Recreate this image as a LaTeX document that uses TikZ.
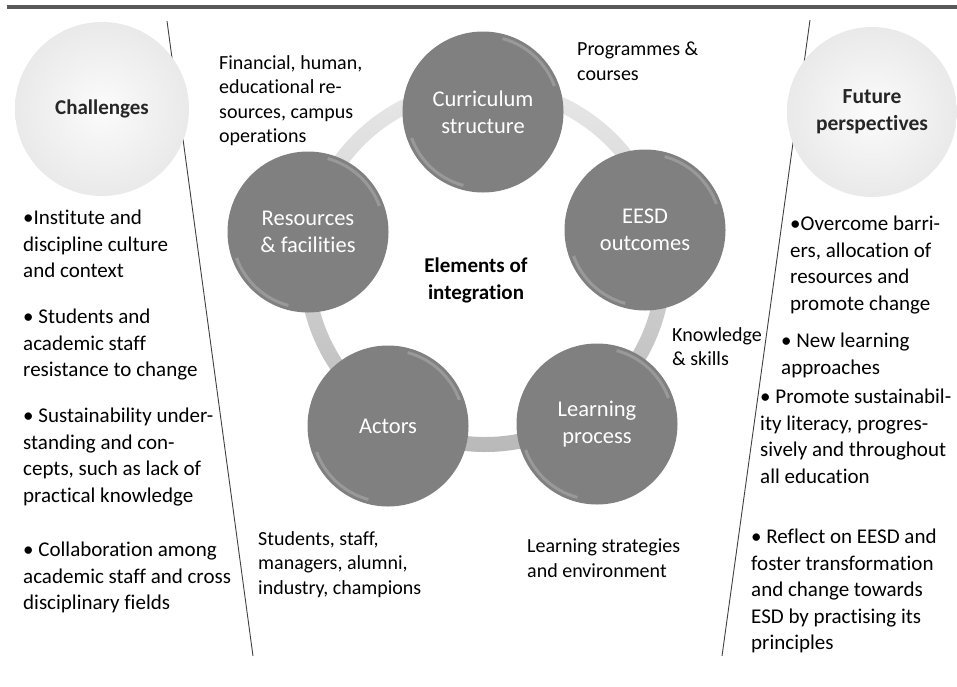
\documentclass[tikz,border=0pt]{standalone}
\usepackage{fontspec}
\setmainfont{Carlito}[Ligatures=NoCommon]
\usetikzlibrary{shapes,arrows}
\definecolor{kgrau}{RGB}{128,128,128}
\definecolor{balken}{RGB}{89,89,89}
\definecolor{linie}{RGB}{64,64,64}

\begin{document}
\begin{tikzpicture}[x=1pt, y=-1pt,
			kugel/.style={circle, fill=kgrau, minimum size=161pt, inner sep=0pt, text=white, align=center, font=\fontsize{22.5}{27}\selectfont},
			hell/.style={circle, inner color=gray!3, outer color=gray!17, minimum size=#1, inner sep=0pt, align=center, text=black!85, font=\fontsize{21}{27}\selectfont\bfseries},
			glanz/.style={white, opacity=0.2, line width=3pt},
			txt/.style={anchor=north west, align=left, inner sep=0pt, font=\fontsize{20}{24.5}\selectfont},
			liste/.style={anchor=north west, align=left, inner sep=0pt, font=\fontsize{21}{26.5}\selectfont}]
			\useasboundingbox (0,0) rectangle (957,686);
			%Balken oben
			\fill[balken] (7,5) rectangle (957,9);
			%Trennlinien
			\coordinate (la) at (167,21); \coordinate (lb) at (253,656);
			\coordinate (ra) at (810,20); \coordinate (rb) at (722,656);
			\draw[linie, line width=0.9pt] (la) -- (lb);
			\draw[linie, line width=0.9pt] (ra) -- (rb);
			%Seitenkreise
			\node[hell=174pt] (chal) at (102,109) {Challenges};
			\node[hell=170pt, font=\fontsize{21.5}{27}\selectfont\bfseries] (fut) at (872,112) {Future\\perspectives};
			%Ring
			\shade[even odd rule, top color=gray!18, bottom color=gray!55] (485,266) circle (186) (485,266) circle (171);
			%Elemente
			\node[kugel] (cur) at (483,112) {Curriculum\\structure};
			\node[kugel] (eesd) at (645,230) {EESD\\outcomes};
			\node[kugel] (lern) at (597,424) {Learning\\process};
			\node[kugel] (akt) at (388,426) {Actors};
			\node[kugel] (res) at (308,232) {Resources\\\& facilities};
			\foreach \n in {cur,eesd,lern,akt,res} {
				\draw[glanz] (\n.center) ++(-75:76) arc[start angle=-75, end angle=-20, radius=76];
				\draw[glanz] (\n.center) ++(-255:76) arc[start angle=-255, end angle=-200, radius=76];
			}
			\node[font=\fontsize{21}{27}\selectfont\bfseries, align=center] (mitte) at (476,280) {Elements of\\integration};
			%Beschriftung
			\node[txt] (fin) at (219,55) {Financial, human,\\educational re-\\sources, campus\\operations};
			\node[txt] (prog) at (577,42) {Programmes \&\\courses};
			\node[txt] (know) at (672,327) {Knowledge\\\& skills};
			\node[txt] (stud) at (258,531) {Students, staff,\\managers, alumni,\\industry, champions};
			\node[txt] (strat) at (527,539) {Learning strategies\\and environment};
			%Liste links
			\node[liste] (ch1) at (23,210) {•Institute and\\discipline culture\\and context};
			\node[liste] (ch2) at (23,309) {• Students and\\academic staff\\resistance to change};
			\node[liste] (ch3) at (23,408) {• Sustainability under-\\standing and con-\\cepts, such as lack of\\practical knowledge};
			\node[liste] (ch4) at (23,542) {• Collaboration among\\academic staff and cross\\disciplinary fields};
			%Liste rechts
			\node[liste] (fp1) at (790,216) {•Overcome barri-\\ers, allocation of\\resources and\\promote change};
			\node[liste] (fp2) at (781,333) {• New learning\\approaches};
			\node[liste] (fp3) at (760,389) {• Promote sustainabil-\\ity literacy, progres-\\sively and throughout\\all education};
			\node[liste] (fp4) at (751,529) {• Reflect on EESD and\\foster transformation\\and change towards\\ESD by practising its\\principles};
		\end{tikzpicture}
\end{document}
